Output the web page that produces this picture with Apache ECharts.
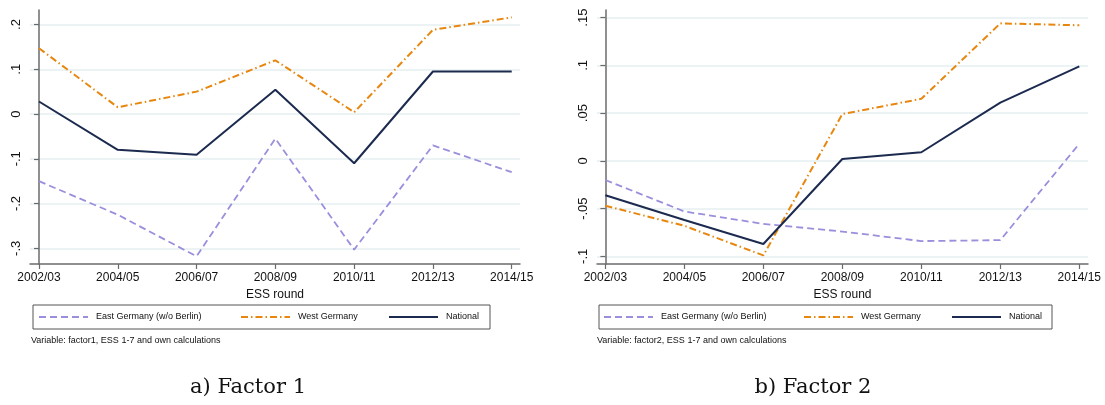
<!DOCTYPE html>
<html>
<head>
<meta charset="utf-8">
<script src="https://cdn.jsdelivr.net/npm/echarts@6/dist/echarts.min.js"></script>
<style>
  html, body { margin: 0; padding: 0; background: #fff; }
  #chart { width: 1105px; height: 405px; }
</style>
</head>
<body>
<div id="chart"></div>
<script>
// ESS rounds on the x axis
const rounds = ['2002/03', '2004/05', '2006/07', '2008/09', '2010/11', '2012/13', '2014/15'];

// Factor 1 means by region
const f1East = [-0.150, -0.225, -0.318, -0.055, -0.303, -0.070, -0.130];
const f1West = [0.147, 0.015, 0.050, 0.120, 0.004, 0.188, 0.216];
const f1National = [0.028, -0.080, -0.091, 0.054, -0.110, 0.095, 0.095];

// Factor 2 means by region
const f2East = [-0.020, -0.053, -0.066, -0.074, -0.084, -0.083, 0.018];
const f2West = [-0.047, -0.068, -0.099, 0.049, 0.065, 0.144, 0.142];
const f2National = [-0.036, -0.062, -0.087, 0.002, 0.009, 0.061, 0.099];

// y-axis tick values
const f1Ticks = [-0.3, -0.2, -0.1, 0, 0.1, 0.2];
const f2Ticks = [-0.1, -0.05, 0, 0.05, 0.1, 0.15];

const seriesNames = ['East Germany (w/o Berlin)', 'West Germany', 'National'];
const roundIdx = rounds.map((_, i) => i);

const FONT = 'Liberation Sans, Arial, sans-serif';
const C_EAST = '#9a8fdc';
const C_WEST = '#e8870f';
const C_NAT = '#1b2a4e';
const AXIS_C = '#6b6b6b';
const GRID_C = '#e6eff0';

const DASH = [7, 4];
const DASHDOT = [7, 3, 1.5, 3];
const styles = [
  { color: C_EAST, dash: DASH, width: 1.8 },
  { color: C_WEST, dash: DASHDOT, width: 2 },
  { color: C_NAT, dash: null, width: 2 }
];

function stataNum(v) {
  if (v === 0) return '0';
  return String(v).replace('0.', '.');
}

function pairs(vals) { return vals.map((v, i) => [i, v]); }

function xAxisCfg(gridIndex, min, max) {
  return {
    type: 'value', gridIndex, min, max,
    name: 'ESS round', nameLocation: 'middle', nameGap: 22,
    nameTextStyle: { fontFamily: FONT, fontSize: 12, color: '#111' },
    axisLine: { show: true, onZero: false, lineStyle: { color: AXIS_C, width: 1.5 } },
    axisTick: { show: true, length: 5, customValues: roundIdx, lineStyle: { color: AXIS_C, width: 1.2 } },
    axisLabel: {
      customValues: roundIdx, margin: 8, fontFamily: FONT, fontSize: 12, color: '#111',
      formatter: v => rounds[Math.round(v)]
    },
    splitLine: { show: false }
  };
}

function yAxisCfg(gridIndex, min, max, ticks) {
  return {
    type: 'value', gridIndex, min, max,
    axisLine: { show: true, lineStyle: { color: AXIS_C, width: 1.5 } },
    axisTick: { show: true, length: 5, customValues: ticks, lineStyle: { color: AXIS_C, width: 1.2 } },
    axisLabel: {
      customValues: ticks, rotate: 90, margin: 7, fontFamily: FONT, fontSize: 13, color: '#111',
      formatter: v => stataNum(v)
    },
    splitLine: { show: true, lineStyle: { color: GRID_C, width: 1.5 } }
  };
}

function lineSeries(k, idx, vals) {
  const s = styles[k];
  return {
    name: seriesNames[k], type: 'line', xAxisIndex: idx, yAxisIndex: idx,
    data: pairs(vals), symbol: 'none', smooth: false,
    lineStyle: { color: s.color, width: s.width, type: s.dash || 'solid' },
    itemStyle: { color: s.color },
    emphasis: { disabled: true },
    z: 2
  };
}

const series = [
  lineSeries(0, 0, f1East), lineSeries(1, 0, f1West), lineSeries(2, 0, f1National),
  lineSeries(0, 1, f2East), lineSeries(1, 1, f2West), lineSeries(2, 1, f2National)
];

// key box under each panel: three columns of sample line + label
function keyBox(boxX, boxW, cols) {
  const y = 317;
  const els = [{
    type: 'rect', shape: { x: boxX, y: 305, width: boxW, height: 24 },
    style: { fill: 'none', stroke: '#555', lineWidth: 1 }, z: -1
  }];
  cols.forEach((x, k) => {
    const s = styles[k];
    els.push({
      type: 'line', shape: { x1: x, y1: y, x2: x + 49, y2: y },
      style: { stroke: s.color, lineWidth: s.width, lineDash: s.dash || null }
    });
    els.push({
      type: 'text', x: x + 57, y: y,
      style: { text: seriesNames[k], font: '9px ' + FONT, fill: '#111', verticalAlign: 'middle' }
    });
  });
  return els;
}

const option = {
  animation: false,
  backgroundColor: '#fff',
  grid: [
    { left: 30, top: 10, width: 490, height: 254 },
    { left: 597, top: 10, width: 491, height: 254 }
  ],
  xAxis: [xAxisCfg(0, -0.114, 6.105), xAxisCfg(1, -0.106, 6.11)],
  yAxis: [yAxisCfg(0, -0.3351, 0.2324, f1Ticks), yAxisCfg(1, -0.108, 0.158, f2Ticks)],
  series,
  graphic: [
    ...keyBox(33, 457, [39, 241, 389]),
    ...keyBox(599, 453, [604, 804, 952]),
    { type: 'text', x: 31, y: 341, style: { text: 'Variable: factor1, ESS 1-7 and own calculations', font: '9px ' + FONT, fill: '#111', verticalAlign: 'middle' } },
    { type: 'text', x: 597, y: 341, style: { text: 'Variable: factor2, ESS 1-7 and own calculations', font: '9px ' + FONT, fill: '#111', verticalAlign: 'middle' } },
    { type: 'text', x: 248, y: 388, style: { text: 'a) Factor 1', font: '21px "DejaVu Serif", serif', fill: '#111', align: 'center', verticalAlign: 'middle' } },
    { type: 'text', x: 813, y: 388, style: { text: 'b) Factor 2', font: '21px "DejaVu Serif", serif', fill: '#111', align: 'center', verticalAlign: 'middle' } }
  ]
};

const chart = echarts.init(document.getElementById('chart'), null, { renderer: 'canvas' });
chart.setOption(option);
</script>
</body>
</html>
